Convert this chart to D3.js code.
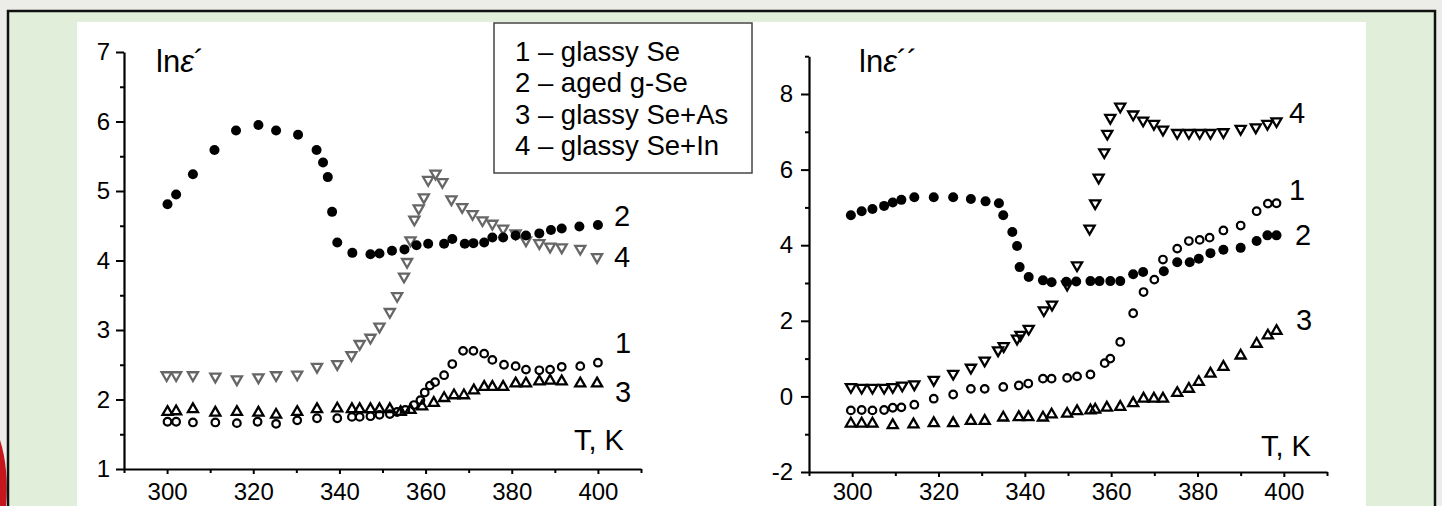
<!DOCTYPE html>
<html>
<head>
<meta charset="utf-8">
<script src="https://cdn.jsdelivr.net/npm/d3@7"></script>
<style>
  body { margin: 0; background: #ecece8; }
  svg { display: block; font-family: "Liberation Sans", Arial, sans-serif; }
</style>
</head>
<body>
<div id="chart"></div>
<script>
// ---- data: [T (K), value] pairs ----
// left panel, ln(eps')
const leftGlassy = [[300.1,1.68],[302.1,1.68],[306,1.67],[311.2,1.67],[316.2,1.66],[321,1.68],[325.3,1.65],[330.2,1.70],[334.8,1.73],[339.5,1.73],[342.9,1.75],[344.7,1.75],[347.2,1.76],[349.3,1.78],[351.7,1.79],[353.4,1.82],[355.3,1.85],[357.3,1.92],[358.8,1.99],[359.8,2.10],[361,2.20],[362.2,2.25],[364.3,2.35],[366.2,2.51],[368.7,2.70],[371.1,2.70],[373.6,2.66],[375.5,2.57],[378.2,2.50],[380.9,2.48],[383.3,2.43],[386.4,2.42],[388.9,2.43],[391.6,2.47],[395.9,2.48],[400,2.53]];
const leftAged = [[300.1,4.81],[302.1,4.95],[306,5.24],[311,5.59],[316,5.87],[321.2,5.95],[325.3,5.87],[330.4,5.81],[334.7,5.59],[336.2,5.41],[337.3,5.20],[338.3,4.70],[339.5,4.26],[343,4.11],[347.2,4.09],[349.3,4.10],[352.2,4.14],[355.1,4.16],[357.9,4.22],[360.6,4.24],[364.3,4.24],[366.2,4.31],[369.1,4.24],[371.1,4.25],[373.6,4.26],[375.5,4.33],[378,4.33],[380.9,4.36],[383.3,4.36],[386.4,4.39],[389.1,4.44],[391.6,4.46],[395.7,4.49],[400,4.51]];
const leftAs = [[300.1,1.82],[302.1,1.83],[306,1.86],[311.2,1.81],[316.2,1.82],[321.2,1.81],[325.3,1.78],[330.2,1.82],[334.8,1.86],[339.5,1.87],[342.9,1.86],[344.7,1.86],[347.2,1.86],[349.3,1.86],[351.7,1.86],[354.2,1.82],[356.5,1.85],[359.2,1.90],[361.9,1.95],[364.3,2.02],[366.6,2.06],[368.9,2.06],[371.2,2.13],[373.6,2.18],[375.5,2.18],[378,2.18],[380.9,2.23],[383.3,2.23],[386.4,2.26],[388.9,2.27],[391.6,2.26],[395.9,2.23],[399.8,2.23]];
const leftIn = [[299.9,2.35],[302.1,2.35],[306,2.35],[311.2,2.33],[316.2,2.29],[321.2,2.32],[325.3,2.35],[330.2,2.36],[334.8,2.47],[339.5,2.51],[342.8,2.64],[344.7,2.80],[347.2,2.89],[349.3,3.05],[351.7,3.26],[353.4,3.49],[355,3.77],[355.7,3.98],[356.5,4.29],[357.4,4.59],[358.4,4.75],[359.6,4.91],[360.6,5.16],[362.3,5.25],[363.9,5.13],[366,4.88],[368.5,4.77],[370.9,4.67],[373.2,4.58],[375.5,4.53],[378,4.46],[380.9,4.39],[383.3,4.29],[386.4,4.25],[388.9,4.20],[391.6,4.19],[395.9,4.17],[399.8,4.05]];

// right panel, ln(eps'')
const rightGlassy = [[299.7,-0.37],[302.2,-0.36],[304.7,-0.37],[307.4,-0.36],[309.4,-0.30],[311.4,-0.29],[314.4,-0.22],[318.9,-0.06],[323.4,0.05],[327.5,0.20],[330.7,0.20],[335,0.25],[338.6,0.29],[340.8,0.34],[344.2,0.47],[346.2,0.47],[349.8,0.49],[352.1,0.53],[355.2,0.58],[358.5,0.88],[359.8,1.00],[362.1,1.44],[365.1,2.20],[367.5,2.76],[370,3.09],[372,3.62],[375.3,3.91],[378,4.11],[380.5,4.14],[382.8,4.20],[386,4.39],[390,4.52],[393.7,4.90],[396.3,5.10],[398.3,5.11]];
const rightAged = [[299.7,4.79],[302.2,4.90],[304.7,4.96],[307.4,5.04],[309.4,5.13],[311.4,5.20],[314.4,5.27],[318.9,5.27],[323.4,5.27],[327.5,5.22],[330.9,5.16],[334,5.11],[335,4.79],[337.1,4.35],[338.2,3.98],[338.8,3.42],[340.9,3.16],[344.2,3.07],[346.2,3.02],[349.6,3.03],[351.9,3.04],[355.2,3.05],[357.3,3.05],[359.8,3.05],[362.1,3.05],[365.1,3.23],[367.4,3.29],[372.2,3.31],[375.3,3.55],[378.2,3.55],[380.3,3.64],[383,3.79],[386,3.88],[390,3.93],[393.7,4.11],[396.2,4.26],[398.3,4.26]];
const rightAs = [[299.7,-0.72],[302.2,-0.72],[304.7,-0.72],[309.4,-0.76],[314.2,-0.74],[318.9,-0.71],[323.4,-0.71],[327.5,-0.65],[330.7,-0.65],[335,-0.56],[338.6,-0.55],[340.8,-0.55],[344.2,-0.56],[346.2,-0.48],[349.8,-0.46],[352.1,-0.39],[355.2,-0.37],[356.3,-0.35],[359,-0.30],[362.1,-0.28],[365.1,-0.18],[367.5,-0.06],[369.9,-0.06],[372,-0.06],[375.3,0.09],[378,0.20],[380.3,0.38],[383,0.60],[386,0.78],[390,1.08],[393.7,1.39],[396.3,1.61],[398.3,1.73]];
const rightIn = [[299.7,0.25],[302.2,0.23],[304.7,0.23],[307.4,0.23],[309.4,0.25],[311.6,0.29],[314.4,0.32],[318.9,0.44],[323.4,0.60],[327.5,0.76],[330.7,0.95],[333.8,1.22],[335.1,1.33],[338.2,1.53],[339,1.63],[340.9,1.79],[344.4,2.28],[346.3,2.43],[349.8,2.96],[352.1,3.47],[355,4.44],[356.3,5.11],[357.1,5.79],[358.4,6.46],[359.1,6.95],[359.8,7.37],[362.1,7.67],[365.1,7.46],[367.4,7.30],[369.9,7.21],[372,7.06],[375.3,6.97],[378,6.97],[380.5,6.97],[383,6.97],[386,6.99],[390,7.08],[393.5,7.12],[396.2,7.21],[398.3,7.28]];

const legendItems = ["1 – glassy Se", "2 – aged g-Se", "3 – glassy Se+As", "4 – glassy Se+In"];
const xMajor = [300, 320, 340, 360, 380, 400];
const xMinor = [290, 310, 330, 350, 370, 390, 410];
const leftYMajor = [1, 2, 3, 4, 5, 6, 7];
const leftYMinor = [1.5, 2.5, 3.5, 4.5, 5.5, 6.5];
const rightYMajor = [-2, 0, 2, 4, 6, 8];
const rightYMinor = [-1, 1, 3, 5, 7, 9];

// ---- page frame ----
const width = 1442, height = 506;
const svg = d3.select("#chart").append("svg")
    .attr("width", width).attr("height", height);

svg.append("rect").attr("width", width).attr("height", height).attr("fill", "#ecece8");
svg.append("path")
    .attr("d", "M0,440 Q9,468 6,506 L0,506 Z")
    .attr("fill", "#c4161c");
svg.append("rect")
    .attr("x", 8).attr("y", 11).attr("width", 1427).attr("height", 520)
    .attr("fill", "#e1eed9").attr("stroke", "#111").attr("stroke-width", 2.5);
svg.append("rect")
    .attr("x", 77).attr("y", 22).attr("width", 1289).attr("height", 500)
    .attr("fill", "#fff");

// ---- marker helpers ----
const upTri = d3.symbol(d3.symbolTriangle, 44)();

function drawSeries(g, data, x, y, kind, color) {
    const sel = g.append("g").selectAll("path")
        .data(data)
        .enter();
    if (kind === "filled") {
        sel.append("circle")
            .attr("cx", d => x(d[0])).attr("cy", d => y(d[1]))
            .attr("r", 5).attr("fill", color);
    } else if (kind === "open") {
        sel.append("circle")
            .attr("cx", d => x(d[0])).attr("cy", d => y(d[1]))
            .attr("r", 3.8).attr("fill", "none")
            .attr("stroke", color).attr("stroke-width", 2.2);
    } else {
        sel.append("path")
            .attr("d", upTri)
            .attr("transform", d => `translate(${x(d[0])},${y(d[1])})` + (kind === "down" ? " rotate(180)" : ""))
            .attr("fill", "none")
            .attr("stroke", color).attr("stroke-width", 2.3)
            .attr("stroke-linejoin", "miter");
    }
}

function drawPanel(opt) {
    const g = svg.append("g");
    const x = d3.scaleLinear().domain([290, 410]).range(opt.xRange);
    const y = d3.scaleLinear().domain(opt.yDomain).range(opt.yRange);

    // minor ticks first
    g.append("g")
        .attr("transform", `translate(0,${opt.yRange[0]})`)
        .call(d3.axisBottom(x).tickValues(xMinor).tickSize(4).tickFormat(""))
        .call(a => a.select(".domain").remove());
    g.append("g")
        .attr("transform", `translate(${opt.xRange[0]},0)`)
        .call(d3.axisLeft(y).tickValues(opt.yMinor).tickSize(4).tickFormat(""))
        .call(a => a.select(".domain").remove());

    const xAxis = g.append("g")
        .attr("transform", `translate(0,${opt.yRange[0]})`)
        .call(d3.axisBottom(x).tickValues(xMajor).tickSize(5).tickSizeOuter(0).tickPadding(opt.xPad));
    const yAxis = g.append("g")
        .attr("transform", `translate(${opt.xRange[0]},0)`)
        .call(d3.axisLeft(y).tickValues(opt.yMajor).tickFormat(d => String(d))   // plain hyphen for "-2"
            .tickSize(8).tickSizeOuter(0).tickPadding(opt.yPad));

    [xAxis, yAxis].forEach(a => {
        a.selectAll("text").attr("font-size", 24).attr("fill", "#000")
            .attr("font-family", "'Liberation Sans', Arial, sans-serif");
        a.select(".domain").attr("stroke", "#000").attr("stroke-width", 2.2);
    });
    g.selectAll("g.tick line").attr("stroke", "#000").attr("stroke-width", 2);

    // series
    opt.series.forEach(s => drawSeries(g, s.data, x, y, s.kind, s.color));

    // axis titles
    const t = g.append("text")
        .attr("x", opt.titleX).attr("y", 72)
        .attr("font-size", 31);
    t.append("tspan").text("ln");
    t.append("tspan").attr("font-style", "italic").text("ε");
    t.append("tspan").text(opt.primes);

    g.append("text").attr("x", opt.tkX).attr("y", opt.tkY)
        .attr("font-size", 29).text("T, K");

    opt.labels.forEach(l => {
        g.append("text").attr("x", l[1]).attr("y", l[2])
            .attr("font-size", 29).text(l[0]);
    });
}

drawPanel({
    xRange: [124, 641], yDomain: [1, 7], yRange: [469, 52],
    yMajor: leftYMajor, yMinor: leftYMinor, xPad: 9, yPad: 6,
    titleX: 156, primes: "´",
    tkX: 574, tkY: 450,
    labels: [["2", 614, 226], ["4", 614, 267], ["1", 615, 353], ["3", 615, 402]],
    series: [
        { data: leftIn, kind: "down", color: "#666" },
        { data: leftAs, kind: "up", color: "#000" },
        { data: leftGlassy, kind: "open", color: "#000" },
        { data: leftAged, kind: "filled", color: "#000" }
    ]
});

drawPanel({
    xRange: [809, 1327], yDomain: [-2, 9], yRange: [472, 56.2],
    yMajor: rightYMajor, yMinor: rightYMinor, xPad: 6, yPad: 8,
    titleX: 859, primes: "´´",
    tkX: 1261, tkY: 456,
    labels: [["4", 1289, 123], ["1", 1289, 200], ["2", 1295, 245], ["3", 1296, 330]],
    series: [
        { data: rightIn, kind: "down", color: "#000" },
        { data: rightAs, kind: "up", color: "#000" },
        { data: rightGlassy, kind: "open", color: "#000" },
        { data: rightAged, kind: "filled", color: "#000" }
    ]
});

// ---- legend ----
const legend = svg.append("g");
legend.append("rect")
    .attr("x", 494).attr("y", 23).attr("width", 258).attr("height", 150)
    .attr("fill", "#fff").attr("stroke", "#444").attr("stroke-width", 1.5);
legend.selectAll("text")
    .data(legendItems)
    .enter()
    .append("text")
    .attr("x", 515)
    .attr("y", (d, i) => 61 + i * 31.3)
    .attr("font-size", 27.5)
    .text(d => d);
</script>
</body>
</html>
